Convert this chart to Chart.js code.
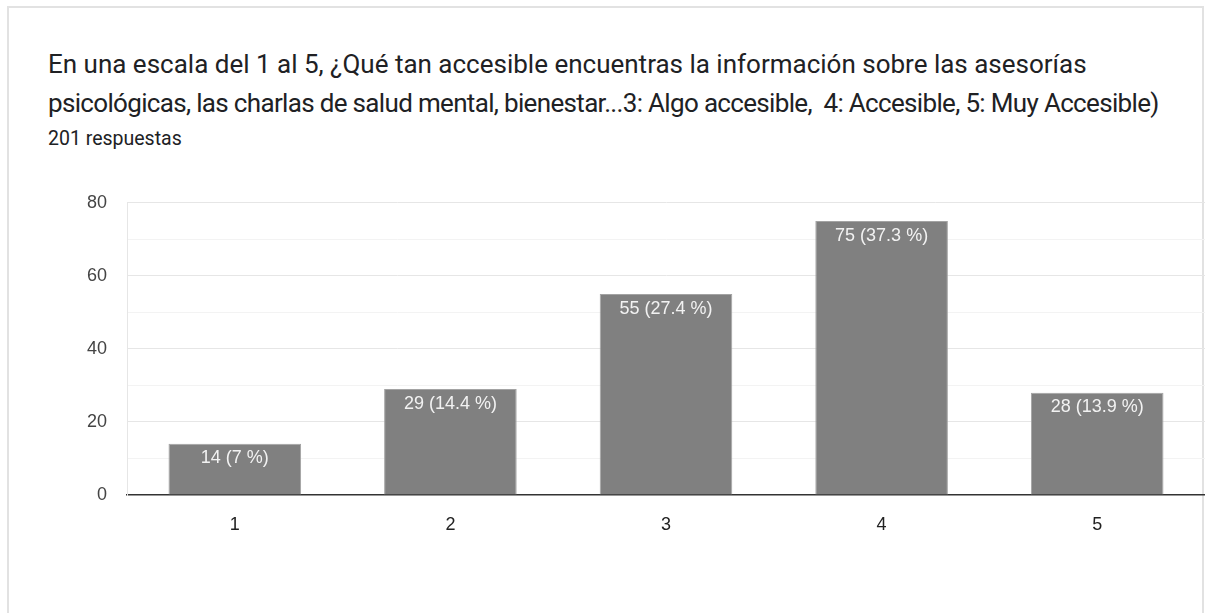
<!DOCTYPE html>
<html lang="es">
<head>
<meta charset="utf-8">
<title>Accesibilidad de la información</title>
<script src="https://cdn.jsdelivr.net/npm/chart.js@4"></script>
<style>
    html, body {
        margin: 0;
        padding: 0;
        width: 1205px;
        height: 613px;
        overflow: hidden;
        background: #fff;
        font-family: Roboto, Arial, sans-serif;
    }
    .card {
        position: absolute;
        left: 7px;
        top: 6px;
        width: 1197px;
        height: 700px;
        border: 2px solid #e2e2e2;
        box-sizing: border-box;
    }
    .question {
        position: absolute;
        left: 48px;
        top: 45px;
        font-size: 26px;
        line-height: 39px;
        color: #202124;
        white-space: nowrap;
    }
    .question .tight {
        letter-spacing: -0.67px;
    }
    .count {
        position: absolute;
        left: 48px;
        top: 127px;
        font-size: 19.5px;
        line-height: 24px;
        color: #202124;
    }
    #responsesChart {
        position: absolute;
        left: 0;
        top: 172px;
    }
</style>
</head>
<body>
<div class="card"></div>
<div class="question">En una escala del 1 al 5, ¿Qué tan accesible encuentras la información sobre las asesorías<br><span class="tight">psicológicas, las charlas de salud mental, bienestar...3: Algo accesible,&nbsp; 4: Accesible, 5: Muy Accesible)</span></div>
<div class="count">201 respuestas</div>
<canvas id="responsesChart" width="1205" height="400"></canvas>

<script>
// Scale answers and how many people picked each one
const categories = ['1', '2', '3', '4', '5'];
const responses = [14, 29, 55, 75, 28];
const totalResponses = 201;
const yTicks = [0, 20, 40, 60, 80];

const axisFont = 'Liberation Sans, Arial, Helvetica, sans-serif';

// "75 (37.3 %)" style label, percentage taken from the same counts
function barLabel(value) {
    const pct = Math.round(value / totalResponses * 1000) / 10;
    return value + ' (' + pct + ' %)';
}

// Writes the count + percentage inside the top of each bar
const barValueLabels = {
    id: 'barValueLabels',
    afterDatasetsDraw(chart) {
        const ctx = chart.ctx;
        const meta = chart.getDatasetMeta(0);
        ctx.save();
        ctx.font = '18px ' + axisFont;
        ctx.fillStyle = '#f2f2f2';
        ctx.textAlign = 'center';
        ctx.textBaseline = 'top';
        meta.data.forEach((bar, i) => {
            ctx.fillText(barLabel(responses[i]), bar.x, bar.y + 5.5);
        });
        ctx.restore();
    }
};

const chart = new Chart(document.getElementById('responsesChart'), {
    type: 'bar',
    data: {
        labels: categories,
        datasets: [{
            data: responses,
            backgroundColor: '#808080',
            borderColor: '#a3a3a3',
            borderWidth: 1,
            barPercentage: 0.615,
            categoryPercentage: 1
        }]
    },
    options: {
        responsive: false,
        animation: false,
        layout: {
            // top spacing comes from the y tick label padding
            padding: { top: 0, right: -3, bottom: 37, left: 0 }
        },
        plugins: {
            legend: { display: false },
            tooltip: { enabled: false }
        },
        scales: {
            x: {
                grid: { display: false },
                border: { display: true, color: '#333333', width: 1.5 },
                ticks: {
                    padding: 11,
                    color: '#222222',
                    font: { family: axisFont, size: 18 }
                },
                afterFit(scale) {
                    scale.height = 40;
                }
            },
            y: {
                min: 0,
                max: 80,
                grid: {
                    drawTicks: false,
                    color(ctx) {
                        const v = ctx.tick.value;
                        if (v === 0) return 'rgba(0,0,0,0)';
                        return yTicks.includes(v) ? '#e6e6e6' : '#f3f3f3';
                    }
                },
                border: { display: true, color: '#e6e6e6', width: 1 },
                ticks: {
                    stepSize: 10,
                    padding: 20,
                    color: '#444444',
                    font: { family: axisFont, size: 18 },
                    callback: value => yTicks.includes(value) ? value : ''
                },
                afterFit(scale) {
                    scale.width = 127;
                }
            }
        }
    },
    plugins: [barValueLabels]
});
</script>
</body>
</html>
